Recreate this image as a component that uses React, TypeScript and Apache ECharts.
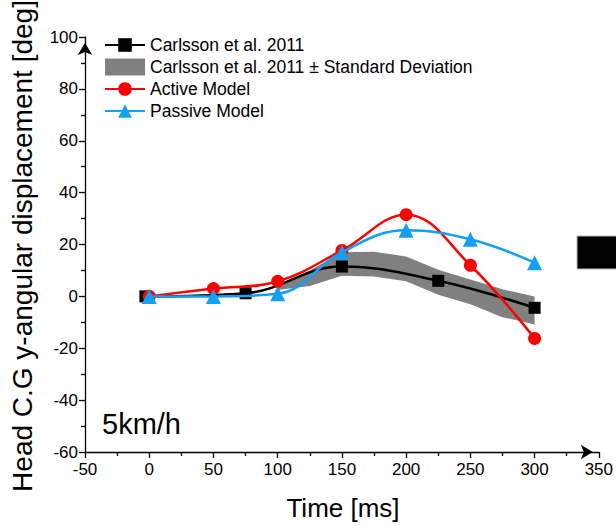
import React, { useEffect, useRef } from "react";
import * as echarts from "echarts";

const carlssonName = "Carlsson et al. 2011";
const sdName = "Carlsson et al. 2011 ± Standard Deviation";
const activeName = "Active Model";
const passiveName = "Passive Model";

const carlssonX = [-3, 75, 150, 225, 300];
const carlssonY = [0, 1.2, 11.5, 6, -4.4];
const modelX = [0, 50, 100, 150, 200, 250, 300];
const activeY = [0, 3, 5.8, 17.7, 31.5, 12, -16.2];
const passiveY = [0, 0, 1, 17, 25.5, 22, 13];
const sdX = [100, 125, 150, 175, 200, 225, 250, 275, 300];
const sdUpper = [4.5, 10, 17, 17.2, 15.4, 10.3, 6.5, 2.7, 0];
const sdLower = [2.5, 4, 8, 7.7, 5.8, 0.6, -3, -8, -10.8];

const FONT = "Liberation Sans, Arial, sans-serif";

function pairs(xs: number[], ys: number[]) {
  return xs.map((x, i) => [x, ys[i]]);
}

export default function App() {
  const ref = useRef<HTMLDivElement>(null);
  useEffect(() => {
    if (!ref.current) return;
    const chart = echarts.init(ref.current, null, { renderer: "svg" });
    const axisCommon = {
      axisLine: {
        show: true,
        onZero: false,
        symbol: ["none", "arrow"],
        symbolSize: [11, 12],
        symbolOffset: [0, -6],
        lineStyle: { color: "#000", width: 1.3 },
      },
      axisTick: { show: true, inside: false, length: 6, lineStyle: { color: "#000", width: 1.3 } },
      minorTick: { show: true, splitNumber: 2, length: 4, lineStyle: { color: "#000", width: 1.3 } },
      splitLine: { show: false },
      minorSplitLine: { show: false },
      axisLabel: { color: "#000", fontSize: 17, fontFamily: FONT },
    };
    chart.setOption({
      animation: false,
      backgroundColor: "#fff",
      textStyle: { fontFamily: FONT },
      grid: { left: 85, right: 15, top: 37, bottom: 74, containLabel: false },
      xAxis: {
        type: "value",
        min: -50,
        max: 350,
        interval: 50,
        ...axisCommon,
        axisLabel: { ...axisCommon.axisLabel, margin: 9 },
      },
      yAxis: {
        type: "value",
        min: -60,
        max: 100,
        interval: 20,
        ...axisCommon,
        axisLabel: { ...axisCommon.axisLabel, margin: 7 },
      },
      legend: {
        orient: "vertical",
        left: 104,
        top: 36,
        padding: 0,
        itemWidth: 40,
        itemHeight: 17,
        itemGap: 4,
        textStyle: { color: "#000", fontSize: 17.5, fontFamily: FONT },
        data: [
          { name: carlssonName },
          { name: sdName, icon: "rect" },
          { name: activeName },
          { name: passiveName },
        ],
      },
      graphic: [
        {
          type: "text",
          x: 22,
          y: 246,
          rotation: Math.PI / 2,
          style: {
            text: "Head C.G y-angular displacement [deg]",
            fontSize: 28,
            fontFamily: FONT,
            fill: "#000",
            textAlign: "center",
            textVerticalAlign: "middle",
          },
        },
        {
          type: "text",
          x: 343,
          y: 508,
          style: {
            text: "Time [ms]",
            fontSize: 26,
            fontFamily: FONT,
            fill: "#000",
            textAlign: "center",
            textVerticalAlign: "middle",
          },
        },
        {
          type: "text",
          x: 102,
          y: 424,
          style: {
            text: "5km/h",
            fontSize: 29,
            fontFamily: FONT,
            fill: "#000",
            textAlign: "left",
            textVerticalAlign: "middle",
          },
        },
        {
          type: "rect",
          shape: { x: 577, y: 236, width: 42, height: 33 },
          style: { fill: "#000", stroke: "#bbb", lineWidth: 1 },
        },
      ],
      series: [
        {
          type: "custom",
          name: sdName,
          data: [[100, 0]],
          itemStyle: { color: "#808080" },
          z: 1,
          renderItem: (_params: any, api: any) => {
            const pts: number[][] = [];
            sdX.forEach((x, i) => pts.push(api.coord([x, sdUpper[i]])));
            for (let i = sdX.length - 1; i >= 0; i--) pts.push(api.coord([sdX[i], sdLower[i]]));
            return {
              type: "polygon",
              shape: { points: pts },
              style: { fill: "#808080" },
            };
          },
        },
        {
          type: "line",
          name: carlssonName,
          data: pairs(carlssonX, carlssonY),
          smooth: 0.4,
          symbol: "rect",
          symbolSize: 12,
          itemStyle: { color: "#000" },
          lineStyle: { color: "#000", width: 2.5 },
          z: 3,
        },
        {
          type: "line",
          name: activeName,
          data: pairs(modelX, activeY),
          smooth: 0.4,
          symbol: "circle",
          symbolSize: 13,
          itemStyle: { color: "#ff0000" },
          lineStyle: { color: "#ff0000", width: 2.5 },
          z: 4,
        },
        {
          type: "line",
          name: passiveName,
          data: pairs(modelX, passiveY),
          smooth: 0.4,
          symbol: "triangle",
          symbolSize: 15,
          itemStyle: { color: "#12a0f0" },
          lineStyle: { color: "#12a0f0", width: 2.5 },
          z: 5,
        },
      ],
    });
    return () => chart.dispose();
  }, []);
  return (
    <div
      ref={ref}
      style={{ position: "fixed", left: 0, top: 0, width: 616, height: 526, background: "#fff" }}
    />
  );
}
